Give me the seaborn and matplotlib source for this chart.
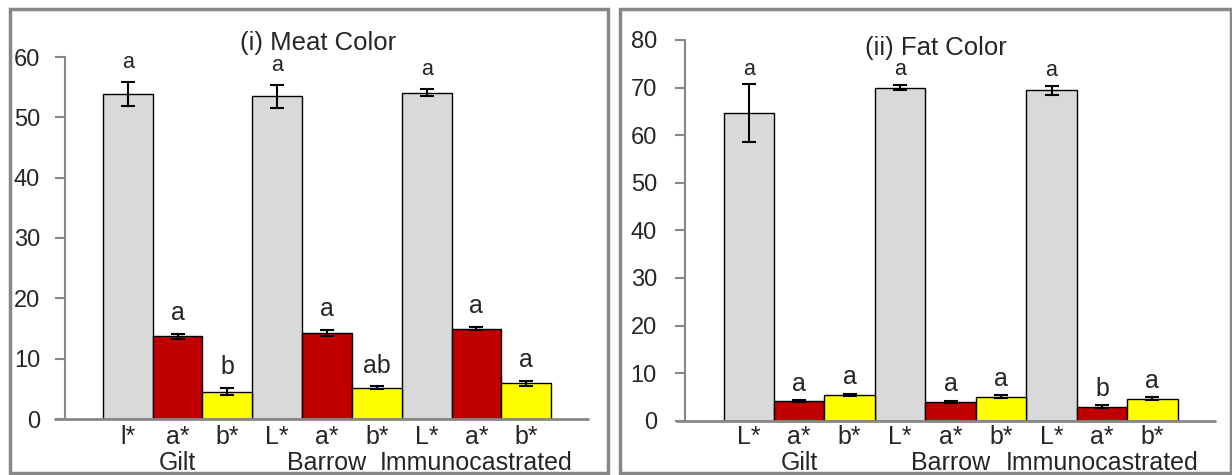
import numpy as np
import pandas as pd
import matplotlib
matplotlib.use("Agg")
import matplotlib.pyplot as plt
from matplotlib.patches import Rectangle
import seaborn as sns

sns.set_style("white")
plt.rcParams['font.family'] = ['Liberation Sans', 'DejaVu Sans']

# --- data ---
groups = ["Gilt", "Barrow", "Immunocastrated"]
attrs = ["L*", "a*", "b*"]

meat_L = [53.8, 53.5, 54.1]
meat_L_err = [2.0, 1.9, 0.55]
meat_a = [13.7, 14.2, 15.0]
meat_a_err = [0.4, 0.5, 0.3]
meat_b = [4.5, 5.2, 5.9]
meat_b_err = [0.6, 0.2, 0.4]
meat_letters = ["a", "a", "b", "a", "a", "ab", "a", "a", "a"]
meat_ticks = ["l*", "a*", "b*", "L*", "a*", "b*", "L*", "a*", "b*"]

fat_L = [64.6, 70.0, 69.4]
fat_L_err = [6.05, 0.6, 0.9]
fat_a = [4.1, 3.9, 2.9]
fat_a_err = [0.2, 0.2, 0.3]
fat_b = [5.4, 5.0, 4.6]
fat_b_err = [0.3, 0.3, 0.3]
fat_letters = ["a", "a", "a", "a", "a", "a", "a", "b", "a"]
fat_ticks = ["L*", "a*", "b*", "L*", "a*", "b*", "L*", "a*", "b*"]

colors = {"L*": "#D9D9D9", "a*": "#C00000", "b*": "#FFFF00"}
grey = "#878787"


def make_df(L, a, b, Le, ae, be):
    rows = []
    for i, g in enumerate(groups):
        rows.append((g + " L*", "L*", L[i], Le[i]))
        rows.append((g + " a*", "a*", a[i], ae[i]))
        rows.append((g + " b*", "b*", b[i], be[i]))
    return pd.DataFrame(rows, columns=["bar", "attr", "value", "err"])


def panel(ax, df, ticks, letters, title, ymax, xlim, title_xy, tick_pad, ylab_pad,
          grp_y, let_off, hline_x):
    sns.barplot(data=df, x="bar", y="value", hue="attr", palette=colors, dodge=False,
                width=1.0, saturation=1, edgecolor="black", linewidth=1.0, legend=False,
                ax=ax, order=list(df["bar"]))
    pos = np.arange(len(df))
    ax.errorbar(pos, df["value"], yerr=df["err"], fmt="none", ecolor="black",
                elinewidth=1.5, capsize=5, capthick=1.5, zorder=5)
    for p, v, e, t, at in zip(pos, df["value"], df["err"], letters, df["attr"]):
        ax.annotate(t, (p, v + e), xytext=(0, let_off), textcoords="offset points",
                    ha="center", va="baseline", fontsize=15.5 if at == "L*" else 18)
    ax.set_xlim(*xlim)
    ax.set_ylim(0, ymax)
    ax.set_yticks(np.arange(0, ymax + 1, 10))
    ax.set_xticks(pos)
    ax.set_xticklabels(ticks, fontsize=18)
    ax.tick_params(axis="x", length=0, pad=tick_pad)
    ax.tick_params(axis="y", length=7, width=1.5, color=grey, labelsize=17,
                   pad=ylab_pad, left=True)
    ax.set_xlabel("")
    ax.set_ylabel("")
    for s in ["top", "right"]:
        ax.spines[s].set_visible(False)
    ax.spines["left"].set_color(grey)
    ax.spines["left"].set_linewidth(1.5)
    ax.spines["bottom"].set_visible(False)
    ax.plot([hline_x, 1], [0, 0], transform=ax.get_yaxis_transform(), color=grey,
            lw=2, clip_on=False, zorder=6)
    for k, g in enumerate(groups):
        ax.text(3 * k + 1, grp_y, g, transform=ax.get_xaxis_transform(),
                ha="center", va="baseline", fontsize=18)
    ax.text(title_xy[0], title_xy[1], title, transform=ax.transAxes,
            ha="center", va="center", fontsize=18.5)


fig = plt.figure(figsize=(12.32, 4.75), dpi=100)
W, H = 1232, 475

ax1 = fig.add_axes([65 / W, 1 - 419 / H, (588 - 65) / W, (419 - 57) / H])
ax2 = fig.add_axes([684.7 / W, 1 - 420.7 / H, (1215 - 684.7) / W, (420.7 - 40) / H])

meat = make_df(meat_L, meat_a, meat_b, meat_L_err, meat_a_err, meat_b_err)
fat = make_df(fat_L, fat_a, fat_b, fat_L_err, fat_a_err, fat_b_err)

panel(ax1, meat, meat_ticks, meat_letters, "(i) Meat Color", 60, (-1.26, 9.24),
      (0.483, 1.039), 4, 11, -0.141, 10, -0.019)
panel(ax2, fat, fat_ticks, fat_letters, "(ii) Fat Color", 80, (-1.27, 9.24),
      (0.474, 0.980), 3, 13, -0.129, 7, -0.0145)

# panel frames
fig.add_artist(Rectangle((10 / W, 1 - 473 / H), (608 - 10) / W, (473 - 9.3) / H,
                         transform=fig.transFigure, fill=False, edgecolor=grey, lw=2.5))
fig.add_artist(Rectangle((620 / W, 1 - 473 / H), (1231 - 620) / W, (473 - 9.3) / H,
                         transform=fig.transFigure, fill=False, edgecolor=grey, lw=2.5))

fig.savefig("out.png", dpi=100)
